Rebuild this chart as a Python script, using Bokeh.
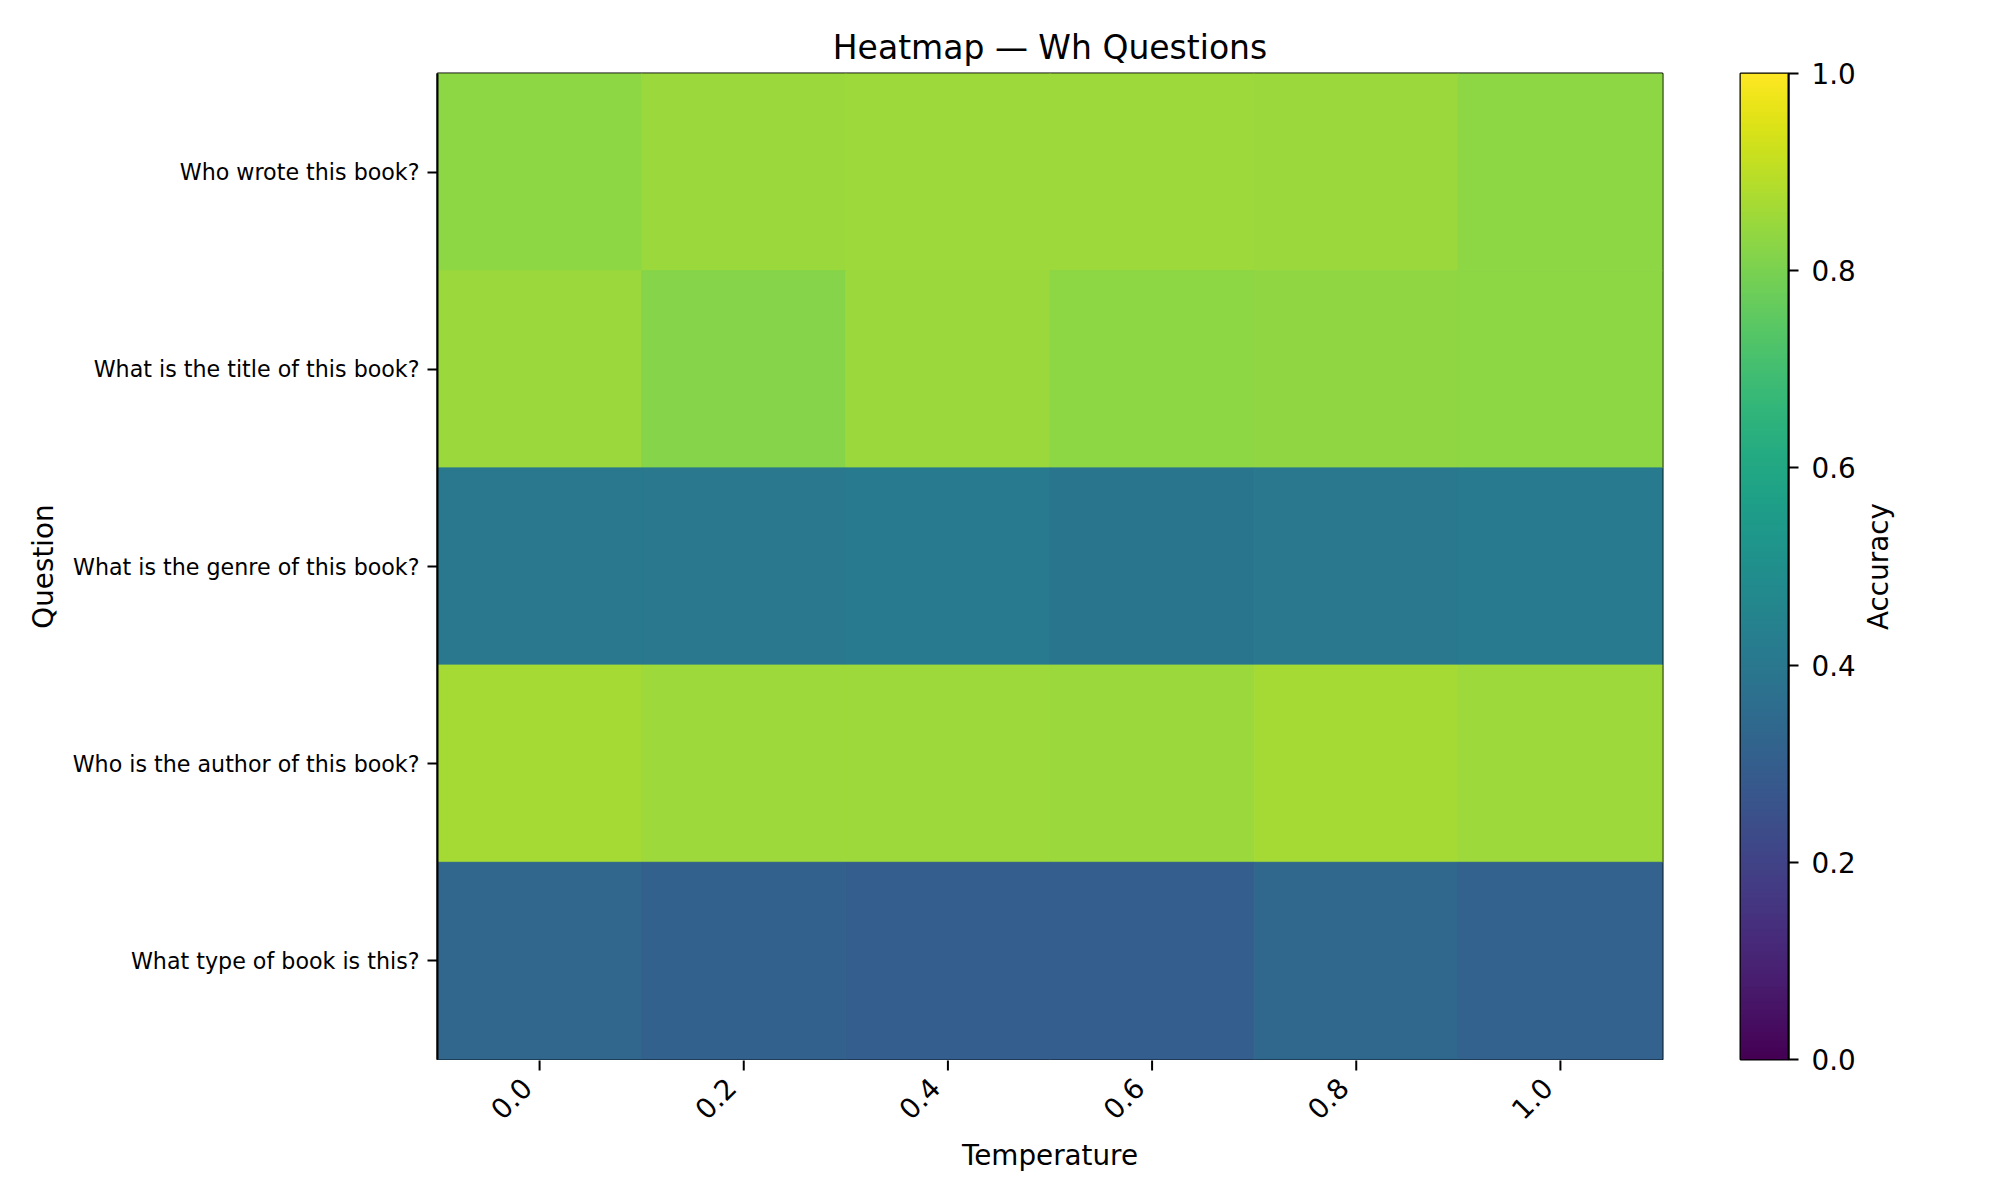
import numpy as np
from bokeh.plotting import figure
from bokeh.models import ColumnDataSource, LinearColorMapper, FixedTicker, Range1d, FactorRange
from bokeh.layouts import row, column
from bokeh.palettes import Viridis256
from bokeh.transform import transform
from bokeh.core.properties import value
from bokeh.embed import file_html
from bokeh.resources import INLINE

# data
temperatures = [0.0, 0.2, 0.4, 0.6, 0.8, 1.0]
temp_labels = ["0.0", "0.2", "0.4", "0.6", "0.8", "1.0"]
questions = [
    "Who wrote this book?",
    "What is the title of this book?",
    "What is the genre of this book?",
    "Who is the author of this book?",
    "What type of book is this?",
]
acc_who_wrote = [0.83, 0.85, 0.855, 0.855, 0.85, 0.83]
acc_title = [0.85, 0.82, 0.85, 0.83, 0.835, 0.83]
acc_genre = [0.40, 0.40, 0.41, 0.39, 0.40, 0.41]
acc_author = [0.865, 0.855, 0.855, 0.85, 0.865, 0.855]
acc_type = [0.33, 0.31, 0.30, 0.30, 0.335, 0.315]
cbar_ticks = [0.0, 0.2, 0.4, 0.6, 0.8, 1.0]

FONT = "DejaVu Sans"
rows = [acc_who_wrote, acc_title, acc_genre, acc_author, acc_type]

xs, ys, vals = [], [], []
for q, accs in zip(questions, rows):
    for t, a in zip(temperatures, accs):
        xs.append(t)
        ys.append(q)
        vals.append(a)
source = ColumnDataSource(data=dict(temp=xs, question=ys, acc=vals))

mapper = LinearColorMapper(palette=Viridis256, low=0.0, high=1.0)


def style_axis(ax, label_size="27.8px"):
    ax.axis_line_color = "black"
    ax.axis_line_width = 2
    ax.major_tick_line_width = 2
    ax.major_tick_out = 10
    ax.major_tick_in = 0
    ax.minor_tick_line_color = None
    ax.major_label_text_font = FONT
    ax.major_label_text_font_size = label_size
    ax.major_label_text_color = "black"
    ax.axis_label_text_font = FONT
    ax.axis_label_text_font_style = "normal"
    ax.axis_label_text_font_size = "27.8px"
    ax.axis_label_text_color = "black"


p = figure(
    width=1700, height=1060,
    x_range=Range1d(-0.1, 1.1),
    y_range=FactorRange(factors=questions[::-1]),
    title="Heatmap \u2014 Wh Questions",
    toolbar_location=None,
    output_backend="svg",
    x_axis_location=None,
    min_border_left=437, min_border_right=38,
    min_border_top=73, min_border_bottom=1,
)
p.rect(x="temp", y="question", width=0.2, height=1.0, source=source,
       fill_color=transform("acc", mapper),
       line_color=transform("acc", mapper), line_width=1)

p.title.text_font = FONT
p.title.text_font_size = "33px"
p.title.text_font_style = "normal"
p.title.text_color = "black"
p.title.align = "center"
p.title.standoff = 14

p.xgrid.visible = False
p.ygrid.visible = False
p.outline_line_color = "black"
p.outline_line_width = 2

p.yaxis.axis_label = "Question"
style_axis(p.yaxis, "22.2px")
p.yaxis.major_label_standoff = 8
p.yaxis.axis_label_standoff = 10

# strip under the heatmap: ticks, rotated right-aligned tick labels, axis title
strip = figure(
    width=1700, height=124,
    x_range=p.x_range, y_range=Range1d(0, 1),
    toolbar_location=None, output_backend="svg",
    y_axis_location=None,
    min_border_left=437, min_border_right=38,
    min_border_top=0, min_border_bottom=54,
)
strip.outline_line_color = None
strip.xgrid.visible = False
strip.ygrid.visible = False
tick_src = ColumnDataSource(data=dict(temp=temperatures, label=temp_labels,
                                      top=[1.0] * len(temperatures)))
# tick marks: vertical dashes centred on the top edge, lower half shows
strip.scatter(x="temp", y="top", source=tick_src, marker="dash", angle=np.pi / 2,
              size=20, line_color="black", line_width=2)
strip.text(x="temp", y="top", text="label", source=tick_src,
           angle=np.pi / 4, text_align="right", text_baseline="middle",
           x_offset=-13, y_offset=22,
           text_font=value(FONT), text_font_size="27.8px", text_color="black")
strip.xaxis.ticker = FixedTicker(ticks=[])
strip.xaxis.axis_line_color = None
strip.xaxis.major_tick_line_color = None
strip.xaxis.minor_tick_line_color = None
strip.xaxis.axis_label = "Temperature"
strip.xaxis.axis_label_text_font = FONT
strip.xaxis.axis_label_text_font_style = "normal"
strip.xaxis.axis_label_text_font_size = "27.8px"
strip.xaxis.axis_label_text_color = "black"
strip.xaxis.axis_label_standoff = 8

# colour bar as its own small figure
cb = figure(
    width=158, height=1184,
    x_range=Range1d(0, 1), y_range=Range1d(0, 1),
    toolbar_location=None, output_backend="svg",
    x_axis_location=None, y_axis_location="right",
    min_border_left=40, min_border_right=70,
    min_border_top=73, min_border_bottom=125,
)
grad = np.linspace(0, 1, 256).reshape(256, 1)
cb.image(image=[grad], x=0, y=0, dw=1, dh=1, color_mapper=mapper)
cb.xgrid.visible = False
cb.ygrid.visible = False
cb.outline_line_color = "black"
cb.outline_line_width = 2
cb.yaxis.ticker = FixedTicker(ticks=cbar_ticks)
cb.yaxis.major_label_overrides = {t: "%.1f" % t for t in cbar_ticks}
style_axis(cb.yaxis)
cb.yaxis.major_label_standoff = 13

# "Accuracy" label: left axis of an empty strip so it reads bottom-to-top
lab = figure(
    width=126, height=1184,
    x_range=Range1d(0, 1), y_range=Range1d(0, 1),
    toolbar_location=None, output_backend="svg",
    x_axis_location=None, y_axis_location="left",
    min_border_left=36, min_border_right=0,
    min_border_top=73, min_border_bottom=125,
)
lab.outline_line_color = None
lab.xgrid.visible = False
lab.ygrid.visible = False
lab.yaxis.ticker = FixedTicker(ticks=[])
lab.yaxis.axis_line_color = None
lab.yaxis.major_tick_line_color = None
lab.yaxis.minor_tick_line_color = None
lab.yaxis.axis_label = "Accuracy"
lab.yaxis.axis_label_text_font = FONT
lab.yaxis.axis_label_text_font_style = "normal"
lab.yaxis.axis_label_text_font_size = "27.8px"
lab.yaxis.axis_label_text_color = "black"
lab.yaxis.axis_label_standoff = 0

layout = row(column(p, strip), cb, lab)
open("out.html", "w").write(file_html(layout, INLINE))
